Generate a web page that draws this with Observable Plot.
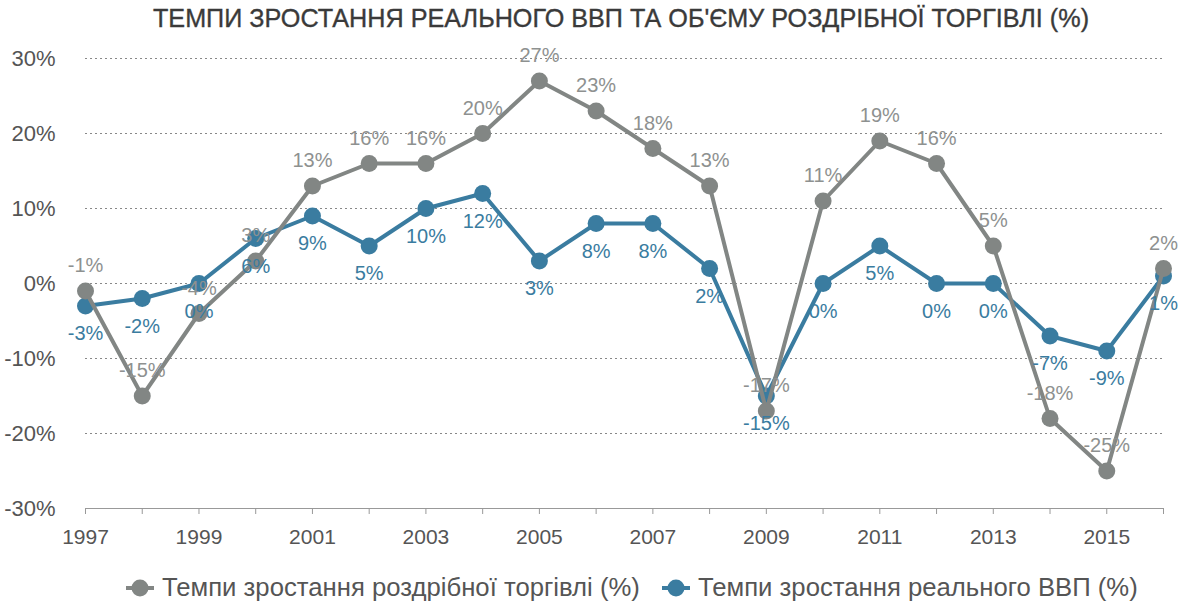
<!DOCTYPE html>
<html>
<head>
<meta charset="utf-8">
<script src="https://cdn.jsdelivr.net/npm/d3@7"></script>
<script src="https://cdn.jsdelivr.net/npm/@observablehq/plot@0.6"></script>
<style>
  body { margin: 0; background: #fff; font-family: "Liberation Sans", Arial, sans-serif; }
  #title { height: 38px; line-height: 36px; text-align: center; font-size: 25.2px; color: #3a3a3a; padding-left: 62px; -webkit-text-stroke: 0.35px #3a3a3a; white-space: nowrap; }
  #legend { position: relative; height: 47px; font-size: 25.7px; color: #555; }
  .item { position: absolute; top: 15px; display: flex; align-items: center; gap: 6px; white-space: nowrap; }
</style>
</head>
<body>
<div id="title">ТЕМПИ ЗРОСТАННЯ РЕАЛЬНОГО ВВП ТА ОБ'ЄМУ РОЗДРІБНОЇ ТОРГІВЛІ (%)</div>
<div id="chart"></div>
<div id="legend"></div>
<script>
const years = [1997,1998,1999,2000,2001,2002,2003,2004,2005,2006,2007,2008,2009,2010,2011,2012,2013,2014,2015,2016];
const retail = [-1,-15,-4,3,13,16,16,20,27,23,18,13,-17,11,19,16,5,-18,-25,2];
const gdp = [-3,-2,0,6,9,5,10,12,3,8,8,2,-15,0,5,0,0,-7,-9,1];
const yTicks = [-30,-20,-10,0,10,20,30];
const gridTicks = [-20,-10,0,10,20,30];
const seriesNames = ["Темпи зростання роздрібної торгівлі (%)", "Темпи зростання реального ВВП (%)"];
const colors = ["#828684", "#3a7ca0"];
const labelColors = ["#8e9190", "#3a7ca0"];

const retailData = years.map((y, i) => ({year: y, value: retail[i]}));
const gdpData = years.map((y, i) => ({year: y, value: gdp[i]}));

const chart = Plot.plot({
  width: 1180,
  height: 520,
  marginTop: 20,
  marginBottom: 50,
  marginLeft: 85,
  marginRight: 17,
  style: {fontFamily: "'Liberation Sans', Arial, sans-serif", background: "#fff", overflow: "visible"},
  x: {domain: [1997, 2016]},
  y: {domain: [-30, 30]},
  marks: [
    Plot.ruleY(gridTicks, {stroke: "#888", strokeDasharray: "2,3", strokeWidth: 1}),
    Plot.ruleY([-30], {stroke: "#999", strokeWidth: 1.2}),
    Plot.axisY({ticks: yTicks, tickSize: 0, tickPadding: 30, tickFormat: d => d + "%", fontSize: 22, color: "#555", label: null}),
    Plot.axisX({ticks: years, tickSize: 6, tickPadding: 15, stroke: "#999", tickFormat: d => (d - 1997) % 2 === 0 ? String(d) : "", fontSize: 21, color: "#555", label: null}),
    Plot.line(gdpData, {x: "year", y: "value", stroke: colors[1], strokeWidth: 4}),
    Plot.dot(gdpData, {x: "year", y: "value", fill: colors[1], r: 8.5}),
    Plot.line(retailData, {x: "year", y: "value", stroke: colors[0], strokeWidth: 4}),
    Plot.dot(retailData, {x: "year", y: "value", fill: colors[0], r: 8.5}),
    Plot.text(gdpData, {x: "year", y: "value", text: d => d.value + "%", dy: 28, fill: labelColors[1], fontSize: 20}),
    Plot.text(retailData, {x: "year", y: "value", text: d => d.value + "%", dy: -25, fill: labelColors[0], fontSize: 20})
  ]
});
document.getElementById("chart").appendChild(chart);

const legend = document.getElementById("legend");
const legendLeft = [124, 660];
seriesNames.forEach((name, i) => {
  const item = document.createElement("div");
  item.className = "item";
  item.style.left = legendLeft[i] + "px";
  item.innerHTML = `<svg width="32" height="22"><line x1="2" x2="30" y1="11" y2="11" stroke="${colors[i]}" stroke-width="4"/><circle cx="16" cy="11" r="8.5" fill="${colors[i]}"/></svg><span>${name}</span>`;
  legend.appendChild(item);
});
</script>
</body>
</html>
